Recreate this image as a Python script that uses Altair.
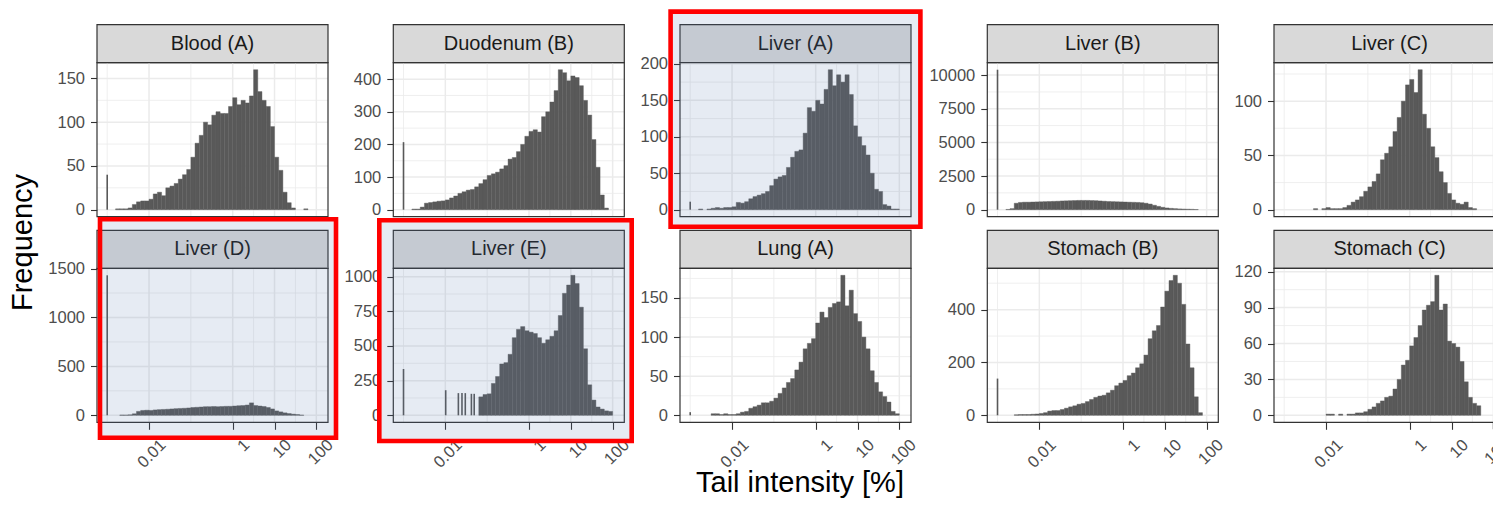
import altair as alt
import pandas as pd

# ---------------- data ----------------
# histogram bins: 48 bins of 0.1 decade, starting at 10^-2.8
BIN_LOG_START = -2.8
BIN_LOG_STEP = 0.1

PANEL_NAMES = ["Blood (A)", "Duodenum (B)", "Liver (A)", "Liver (B)", "Liver (C)",
               "Liver (D)", "Liver (E)", "Lung (A)", "Stomach (B)", "Stomach (C)"]

BLOOD_A = [1, 1, 1, 2, 6, 9, 10, 10, 12, 18, 20, 16, 25, 27, 30, 35, 40, 46, 60, 76,
           85, 100, 97, 108, 112, 110, 110, 118, 128, 120, 125, 122, 130, 160, 135, 125, 118, 95, 60, 45,
           20, 8, 2, 0, 0, 1, 0, 0]
DUODENUM_B = [2, 2, 8, 20, 22, 24, 26, 27, 30, 36, 42, 50, 55, 60, 62, 70, 80, 92, 105, 110,
              115, 125, 135, 155, 160, 178, 200, 225, 240, 245, 238, 285, 300, 330, 365, 429, 420, 395, 410, 405,
              380, 335, 290, 215, 130, 45, 5, 0]
LIVER_A = [1, 0, 1, 2, 3, 2, 3, 3, 4, 10, 9, 11, 15, 18, 20, 22, 25, 33, 42, 45,
           47, 58, 72, 80, 82, 105, 140, 135, 150, 145, 165, 192, 170, 185, 175, 185, 158, 115, 100, 88,
           75, 50, 28, 25, 7, 5, 1, 1]
LIVER_B = [20, 80, 480, 540, 560, 560, 570, 580, 590, 600, 610, 620, 630, 650, 660, 670, 680, 690, 690, 690,
           680, 670, 650, 630, 610, 600, 590, 580, 570, 560, 550, 540, 520, 480, 420, 330, 250, 180, 130, 100,
           80, 60, 50, 40, 30, 15, 0, 0]
LIVER_C = [0, 0, 0, 0, 0, 1, 0, 1, 2, 1, 1, 1, 2, 4, 7, 9, 12, 17, 21, 26,
           33, 46, 52, 58, 72, 85, 100, 115, 120, 108, 129, 88, 75, 58, 48, 35, 25, 15, 9, 6,
           5, 7, 2, 1, 0, 0, 0, 0]
LIVER_D = [0, 3, 2, 5, 15, 40, 50, 52, 50, 55, 58, 60, 62, 65, 68, 70, 72, 75, 80, 82,
           85, 88, 88, 90, 88, 90, 92, 92, 95, 98, 100, 105, 127, 100, 95, 90, 80, 65, 45, 35,
           25, 18, 12, 8, 2, 0, 0, 0]
LIVER_E = [0, 0, 0, 0, 0, 0, 0, 0, 0, 0, 0, 0, 0, 0, 0, 0, 133, 150, 155, 230,
           280, 370, 380, 440, 560, 620, 640, 610, 600, 590, 560, 520, 545, 570, 610, 720, 880, 940, 1010, 950,
           780, 480, 220, 110, 60, 45, 32, 28]
LUNG_A = [0, 0, 0, 2, 2, 1, 2, 1, 1, 2, 4, 5, 9, 11, 13, 16, 16, 18, 22, 28,
          35, 42, 47, 58, 68, 85, 92, 98, 118, 132, 125, 138, 143, 145, 179, 140, 160, 130, 120, 100,
          85, 57, 42, 30, 24, 17, 5, 2]
STOMACH_B = [0, 0, 2, 3, 3, 3, 4, 5, 7, 10, 16, 18, 18, 22, 27, 32, 36, 42, 45, 52,
             60, 68, 73, 76, 85, 95, 112, 122, 132, 150, 160, 180, 195, 228, 290, 320, 340, 410, 470, 510,
             530, 500, 420, 270, 180, 70, 10, 0]
STOMACH_C = [0, 0, 0, 0, 0, 0, 0, 0, 1, 1, 0, 1, 0, 1, 1, 2, 2, 3, 5, 7,
             10, 12, 15, 16, 22, 30, 42, 46, 58, 65, 75, 88, 92, 95, 117, 88, 93, 62, 60, 57,
             45, 28, 15, 10, 8, 0, 0, 0]

COUNTS = {"Blood (A)": BLOOD_A, "Duodenum (B)": DUODENUM_B, "Liver (A)": LIVER_A,
          "Liver (B)": LIVER_B, "Liver (C)": LIVER_C, "Liver (D)": LIVER_D,
          "Liver (E)": LIVER_E, "Lung (A)": LUNG_A, "Stomach (B)": STOMACH_B,
          "Stomach (C)": STOMACH_C}

# narrow spikes (discrete values, e.g. zero tail intensity)
SPIKE_X = {"Blood (A)": [0.001], "Duodenum (B)": [0.001], "Liver (A)": [0.001],
           "Liver (B)": [0.001], "Liver (D)": [0.001], "Lung (A)": [0.001], "Stomach (B)": [0.001],
           "Liver (E)": [0.001, 0.0102, 0.0205, 0.025, 0.030, 0.042, 0.049]}
SPIKE_N = {"Blood (A)": [40], "Duodenum (B)": [207], "Liver (A)": [11],
           "Liver (B)": [10400], "Liver (D)": [1431], "Lung (A)": [4], "Stomach (B)": [139],
           "Liver (E)": [334, 181, 160, 160, 160, 155, 155]}

Y_TICKS = {"Blood (A)": [0, 50, 100, 150], "Duodenum (B)": [0, 100, 200, 300, 400],
           "Liver (A)": [0, 50, 100, 150, 200], "Liver (B)": [0, 2500, 5000, 7500, 10000],
           "Liver (C)": [0, 50, 100], "Liver (D)": [0, 500, 1000, 1500],
           "Liver (E)": [0, 250, 500, 750, 1000], "Lung (A)": [0, 50, 100, 150],
           "Stomach (B)": [0, 200, 400], "Stomach (C)": [0, 30, 60, 90, 120]}

X_TICKS = [0.01, 1, 10, 100]
X_TICK_LABELS = ["0.01", "1", "10", "100"]
X_MINOR = [0.001, 0.1, 3.1623, 31.623]
X_DOMAIN = [0.00057, 190]

Y_TITLE = "Frequency"
X_TITLE = "Tail intensity [%]"
HIGHLIGHTED = ["Liver (A)", "Liver (D)", "Liver (E)"]

# ---------------- styles / layout (pixels, chart coordinates) ----------------
FONT = "Liberation Sans"
CHART_W, CHART_H = 1485, 490          # page is 1501 x 506 with an 8px margin
W, H = 231, 154
STRIP_H = 38
COL_X = [89, 385.3, 672, 979.3, 1266]
ROW_Y = [54.7, 260.3]
X_AXIS_OFFSET = (ROW_Y[1] + H) - CHART_H
BAR = "#595959"
DARK = "#333333"
GRID = "#EBEBEB"
STRIP_FILL = "#D9D9D9"
LABEL_COLOR = "#4D4D4D"
LABEL_SIZE = 16.5
X_TICK_SIZE = 7
X_LABEL_PAD = 7
X_LABEL_SHIFT = 8
TITLE_SIZE = 29
FREQ_POS = (23.7, 234.5)
TAIL_POS = (792, 484)
# red highlight boxes: outer edges relative to the plot area (left, right beyond W, top, bottom beyond H)
BOX = {"Liver (A)": (-11.7, 11.7, -53.4, 12.3),
       "Liver (D)": (0.7, 10.3, -51.3, 17.7),
       "Liver (E)": (-16.3, 9.7, -50.3, 21.0)}
RED_W = 4.6


def panel_layers(name, x0, y0, bottom, clip):
    counts = COUNTS[name]
    n_bins = len(counts)
    lo = [10 ** (BIN_LOG_START + BIN_LOG_STEP * i) for i in range(n_bins)]
    hi = [10 ** (BIN_LOG_START + BIN_LOG_STEP * (i + 1)) for i in range(n_bins)]
    bars = pd.DataFrame({"x0": lo, "x1": hi, "n": counts})
    bars = bars[bars.n > 0]
    sx = SPIKE_X.get(name, [])
    sn = SPIKE_N.get(name, [])
    ymax = max(list(counts) + list(sn))
    ydom = [-0.05 * ymax, 1.05 * ymax]
    xsc = alt.Scale(type="log", domain=X_DOMAIN, range=[x0, x0 + W], nice=False)
    ysc = alt.Scale(domain=ydom, range=[y0 + H, y0], nice=False, zero=False)

    ticks = Y_TICKS[name]
    step = ticks[1] - ticks[0]
    minor_y = [t + step / 2 for t in [ticks[0] - step] + ticks]
    minor_y = [v for v in minor_y if ydom[0] <= v <= ydom[1]]
    major_y = [v for v in ticks if ydom[0] <= v <= ydom[1]]

    yaxis = alt.Axis(orient="left", offset=-x0, values=ticks, format="d", grid=False,
                     domain=False, ticks=True, tickSize=6.5, tickColor=DARK, tickWidth=1.1,
                     labelFontSize=LABEL_SIZE, labelColor=LABEL_COLOR, labelPadding=6,
                     labelFont=FONT, labelOverlap=False, labelFlush=False, title=None)
    # at the right edge of the page the last tick/label is drawn as clipped marks
    axis_ticks = X_TICKS[:-1] if clip else X_TICKS
    if bottom:
        xaxis = alt.Axis(orient="bottom", offset=X_AXIS_OFFSET, values=axis_ticks, format="~g",
                         grid=False, domain=False, ticks=True, tickSize=X_TICK_SIZE, tickColor=DARK,
                         tickWidth=1.1, labelAngle=315, labelAlign="right", labelBaseline="top",
                         labelFontSize=LABEL_SIZE, labelColor=LABEL_COLOR, labelPadding=X_LABEL_PAD,
                         labelOffset=X_LABEL_SHIFT, labelFont=FONT, labelOverlap=False,
                         labelFlush=False, title=None)
    else:
        xaxis = None

    lab = pd.DataFrame({"label": [name]})
    L = []
    # strip
    L.append(alt.Chart(lab).mark_rect(fill=STRIP_FILL, stroke=DARK, strokeWidth=1.2, clip=clip).encode(
        x=alt.value(x0), x2=alt.value(x0 + W), y=alt.value(y0 - STRIP_H), y2=alt.value(y0)))
    L.append(alt.Chart(lab).mark_text(fontSize=20, color="#1A1A1A", font=FONT, align="center",
                                      baseline="middle", clip=clip).encode(
        text="label:N", x=alt.value(x0 + W / 2), y=alt.value(y0 - STRIP_H / 2)))
    # grid lines
    L.append(alt.Chart(pd.DataFrame({"v": X_MINOR})).mark_rule(color=GRID, strokeWidth=0.8, clip=clip).encode(
        x=alt.X("v:Q", scale=xsc, axis=None), y=alt.value(y0), y2=alt.value(y0 + H)))
    L.append(alt.Chart(pd.DataFrame({"v": X_TICKS})).mark_rule(color=GRID, strokeWidth=1.5, clip=clip).encode(
        x=alt.X("v:Q", scale=xsc, axis=None), y=alt.value(y0), y2=alt.value(y0 + H)))
    L.append(alt.Chart(pd.DataFrame({"v": minor_y})).mark_rule(color=GRID, strokeWidth=0.8, clip=clip).encode(
        y=alt.Y("v:Q", scale=ysc, axis=None), x=alt.value(x0), x2=alt.value(x0 + W)))
    L.append(alt.Chart(pd.DataFrame({"v": major_y})).mark_rule(color=GRID, strokeWidth=1.5, clip=clip).encode(
        y=alt.Y("v:Q", scale=ysc, axis=None), x=alt.value(x0), x2=alt.value(x0 + W)))
    # histogram bars (these carry the axes)
    L.append(alt.Chart(bars).mark_rect(color=BAR, stroke=BAR, strokeWidth=0.4, clip=clip).encode(
        x=alt.X("x0:Q", scale=xsc, axis=xaxis), x2="x1:Q",
        y=alt.Y("n:Q", scale=ysc, axis=yaxis), y2=alt.datum(0)))
    if sx:
        L.append(alt.Chart(pd.DataFrame({"x": sx, "n": sn})).mark_rule(
            color=BAR, strokeWidth=1.6, clip=clip).encode(
            x=alt.X("x:Q", scale=xsc, axis=None), y=alt.Y("n:Q", scale=ysc, axis=None),
            y2=alt.datum(0)))
    # panel border
    L.append(alt.Chart(lab).mark_rect(fillOpacity=0, stroke=DARK, strokeWidth=1.2, clip=clip).encode(
        x=alt.value(x0), x2=alt.value(x0 + W), y=alt.value(y0), y2=alt.value(y0 + H)))
    # last x tick + label at the page edge, clipped like the reference
    if bottom and clip:
        yb = y0 + H
        edge = pd.DataFrame({"v": X_TICKS[-1:], "t": X_TICK_LABELS[-1:]})
        L.append(alt.Chart(edge).mark_rule(color=DARK, strokeWidth=1.1, clip=True).encode(
            x=alt.X("v:Q", scale=xsc, axis=None), y=alt.value(yb), y2=alt.value(yb + X_TICK_SIZE)))
        shift = X_LABEL_SHIFT * 0.7071
        L.append(alt.Chart(edge).mark_text(
            angle=315, align="right", baseline="top", dx=shift, dy=shift,
            fontSize=LABEL_SIZE, color=LABEL_COLOR, font=FONT, clip=True).encode(
            text="t:N", x=alt.X("v:Q", scale=xsc, axis=None),
            y=alt.value(yb + X_TICK_SIZE + X_LABEL_PAD)))
    # highlight
    if name in HIGHLIGHTED:
        l, r, t, b = BOX[name]
        hw = RED_W / 2
        L.append(alt.Chart(lab).mark_rect(fill="#557CB1", fillOpacity=0.15,
                                          stroke="#FF0000", strokeWidth=RED_W).encode(
            x=alt.value(x0 + l + hw), x2=alt.value(x0 + W + r - hw),
            y=alt.value(y0 + t + hw), y2=alt.value(y0 + H + b - hw)))
    return L


layers = []
for i, name in enumerate(PANEL_NAMES):
    col, row = i % 5, i // 5
    layers += panel_layers(name, COL_X[col], ROW_Y[row], row == 1, col == 4)

layers.append(alt.Chart(pd.DataFrame({"t": [Y_TITLE]})).mark_text(
    fontSize=TITLE_SIZE, font=FONT, color="#000000", angle=270,
    align="center", baseline="alphabetic").encode(
    text="t:N", x=alt.value(FREQ_POS[0]), y=alt.value(FREQ_POS[1])))
layers.append(alt.Chart(pd.DataFrame({"t": [X_TITLE]})).mark_text(
    fontSize=TITLE_SIZE, font=FONT, color="#000000",
    align="center", baseline="alphabetic").encode(
    text="t:N", x=alt.value(TAIL_POS[0]), y=alt.value(TAIL_POS[1])))

chart = alt.layer(*layers).resolve_scale(x="independent", y="independent").properties(
    width=CHART_W, height=CHART_H, padding=0
).configure_view(stroke=None)

chart.save("out.html", embed_options={"renderer": "svg", "actions": False})
